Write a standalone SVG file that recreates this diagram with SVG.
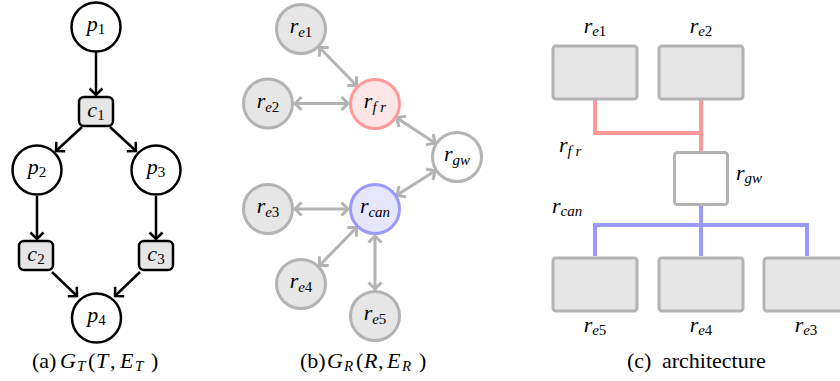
<svg xmlns="http://www.w3.org/2000/svg" width="840" height="381" viewBox="0 0 840 381">
<style>
text{font-family:"Liberation Serif","Times New Roman",serif;fill:#000}
.lbl{font-size:22px;font-style:italic;text-anchor:middle}
.lbl-l{font-size:22px;font-style:italic}
.sub{font-size:15px}
.up{font-style:normal}
.cap{font-size:22px}
.it{font-style:italic}
.pn{fill:#fff;stroke:#000;stroke-width:2.5}
.cn{fill:#e6e6e6;stroke:#000;stroke-width:2.5}
.gn{fill:#e6e6e6;stroke:#b3b3b3;stroke-width:3}
.wn{fill:#fff;stroke:#b3b3b3;stroke-width:3}
.rn{fill:#ffe6e6;stroke:#ff9999;stroke-width:3}
.bn{fill:#e6e6ff;stroke:#9999ff;stroke-width:3}
.box{fill:#e6e6e6;stroke:#b3b3b3;stroke-width:3}
.wbox{fill:#fff;stroke:#b3b3b3;stroke-width:3}
.ea{stroke:#000;stroke-width:2.5;fill:none;marker-end:url(#ah)}
.eb{stroke:#b3b3b3;stroke-width:3;fill:none;marker-start:url(#gh);marker-end:url(#gh)}
.red{stroke:#ff9999;stroke-width:4;fill:none}
.blue{stroke:#9999ff;stroke-width:4;fill:none}
</style>
<defs>
<marker id="ah" markerUnits="userSpaceOnUse" viewBox="-10 -8 12 16" refX="0" refY="0" markerWidth="12" markerHeight="16" orient="auto" overflow="visible">
<path d="M-6.5,-6.5 L0,0 L-6.5,6.5" fill="none" stroke="#000" stroke-width="2.5" stroke-linejoin="miter"/>
</marker>
<marker id="gh" markerUnits="userSpaceOnUse" viewBox="-10 -8 12 16" refX="0" refY="0" markerWidth="12" markerHeight="16" orient="auto-start-reverse" overflow="visible">
<path d="M-6.5,-6.5 L0,0 L-6.5,6.5" fill="none" stroke="#b3b3b3" stroke-width="3"/>
</marker>
</defs>

<g id="connectors">
<!-- (a) -->
<line class="ea" x1="96" y1="52" x2="96" y2="95"/>
<line class="ea" x1="82" y1="127" x2="56" y2="151"/>
<line class="ea" x1="110" y1="127" x2="136" y2="151"/>
<line class="ea" x1="37" y1="196" x2="37" y2="239"/>
<line class="ea" x1="156" y1="196" x2="156" y2="239"/>
<line class="ea" x1="52" y1="272" x2="77" y2="296"/>
<line class="ea" x1="140" y1="272" x2="115" y2="296"/>
<!-- (b) -->
<line class="eb" x1="319.5" y1="47.5" x2="356.5" y2="85.5"/>
<line class="eb" x1="295" y1="103.5" x2="348" y2="103.5"/>
<line class="eb" x1="397" y1="118" x2="435" y2="143"/>
<line class="eb" x1="435" y1="171" x2="397" y2="195"/>
<line class="eb" x1="295" y1="209" x2="348" y2="209"/>
<line class="eb" x1="319.5" y1="265.5" x2="356.5" y2="227.5"/>
<line class="eb" x1="375" y1="236" x2="375" y2="289"/>
<!-- (c) -->
<polyline class="red" points="595,100 595,133 701,133"/>
<line class="red" x1="701" y1="100" x2="701" y2="151"/>
<line class="blue" x1="701" y1="205" x2="701" y2="256"/>
<polyline class="blue" points="595,256 595,225 807,225 807,256"/>
</g>

<g id="p1"><circle class="pn" cx="96" cy="27" r="24.5"/><text class="lbl" x="96" y="31">p<tspan class="sub up" dy="3">1</tspan></text></g>
<g id="c1"><rect class="cn" x="79" y="97" width="34" height="29" rx="5"/><text class="lbl" x="96" y="117">c<tspan class="sub up" dy="3">1</tspan></text></g>
<g id="p2"><circle class="pn" cx="37" cy="170" r="24.5"/><text class="lbl" x="37" y="174">p<tspan class="sub up" dy="3">2</tspan></text></g>
<g id="p3"><circle class="pn" cx="156" cy="170" r="24.5"/><text class="lbl" x="156" y="174">p<tspan class="sub up" dy="3">3</tspan></text></g>
<g id="c2"><rect class="cn" x="19" y="241" width="34" height="29" rx="5"/><text class="lbl" x="36" y="261">c<tspan class="sub up" dy="3">2</tspan></text></g>
<g id="c3"><rect class="cn" x="139" y="241" width="34" height="29" rx="5"/><text class="lbl" x="156" y="261">c<tspan class="sub up" dy="3">3</tspan></text></g>
<g id="p4"><circle class="pn" cx="96.5" cy="318" r="24.5"/><text class="lbl" x="96.5" y="322">p<tspan class="sub up" dy="3">4</tspan></text></g>
<g id="cap-a"><text class="cap" x="32" y="368">(a)</text><text class="cap"><tspan class="it" x="60" y="368">G</tspan><tspan class="sub it" x="77" y="371">T</tspan><tspan x="88" y="368">(</tspan><tspan class="it" x="96" y="368">T</tspan><tspan x="110" y="368">,</tspan><tspan class="it" x="120" y="368">E</tspan><tspan class="sub it" x="135" y="371">T</tspan><tspan x="151" y="368">)</tspan></text></g>

<g id="b-re1"><circle class="gn" cx="301" cy="29" r="24.5"/><text class="lbl" x="301" y="33">r<tspan class="sub" dy="4">e</tspan><tspan class="sub up">1</tspan></text></g>
<g id="b-re2"><circle class="gn" cx="268" cy="103.5" r="24.5"/><text class="lbl" x="268" y="107.5">r<tspan class="sub" dy="4">e</tspan><tspan class="sub up">2</tspan></text></g>
<g id="b-rfr"><circle class="rn" cx="375" cy="104" r="24.5"/><text class="lbl" x="375" y="108">r<tspan class="sub" dy="4">f r</tspan></text></g>
<g id="b-rgw"><circle class="wn" cx="457" cy="157" r="24.5"/><text class="lbl" x="457" y="161">r<tspan class="sub" dy="4">gw</tspan></text></g>
<g id="b-rcan"><circle class="bn" cx="375" cy="209" r="24.5"/><text class="lbl" x="375" y="213">r<tspan class="sub" dy="4">can</tspan></text></g>
<g id="b-re3"><circle class="gn" cx="268" cy="209" r="24.5"/><text class="lbl" x="268" y="213">r<tspan class="sub" dy="4">e</tspan><tspan class="sub up">3</tspan></text></g>
<g id="b-re4"><circle class="gn" cx="301" cy="284" r="24.5"/><text class="lbl" x="301" y="288">r<tspan class="sub" dy="4">e</tspan><tspan class="sub up">4</tspan></text></g>
<g id="b-re5"><circle class="gn" cx="375" cy="316" r="24.5"/><text class="lbl" x="375" y="320">r<tspan class="sub" dy="4">e</tspan><tspan class="sub up">5</tspan></text></g>
<g id="cap-b"><text class="cap" x="300" y="368">(b)</text><text class="cap"><tspan class="it" x="327" y="368">G</tspan><tspan class="sub it" x="344" y="371">R</tspan><tspan x="356" y="368">(</tspan><tspan class="it" x="364" y="368">R</tspan><tspan x="378" y="368">,</tspan><tspan class="it" x="387" y="368">E</tspan><tspan class="sub it" x="402" y="371">R</tspan><tspan x="419" y="368">)</tspan></text></g>

<g id="c-re1"><rect class="box" x="553" y="46" width="84" height="53" rx="3"/><text class="lbl" x="595" y="33">r<tspan class="sub" dy="3">e</tspan><tspan class="sub up">1</tspan></text></g>
<g id="c-re2"><rect class="box" x="659" y="46" width="84" height="53" rx="3"/><text class="lbl" x="701" y="33">r<tspan class="sub" dy="3">e</tspan><tspan class="sub up">2</tspan></text></g>
<g id="c-rgw"><rect class="wbox" x="674.5" y="152.5" width="53" height="52" rx="3"/><text class="lbl-l" x="736" y="180">r<tspan class="sub" dy="3">gw</tspan></text></g>
<g id="c-re5"><rect class="box" x="553" y="258" width="84" height="53" rx="3"/><text class="lbl" x="595" y="332">r<tspan class="sub" dy="3">e</tspan><tspan class="sub up">5</tspan></text></g>
<g id="c-re4"><rect class="box" x="659" y="258" width="84" height="53" rx="3"/><text class="lbl" x="701" y="332">r<tspan class="sub" dy="3">e</tspan><tspan class="sub up">4</tspan></text></g>
<g id="c-re3"><rect class="box" x="764" y="258" width="84" height="53" rx="3"/><text class="lbl" x="806" y="332">r<tspan class="sub" dy="3">e</tspan><tspan class="sub up">3</tspan></text></g>
<g id="c-rfr-label"><text class="lbl-l" x="559" y="152">r<tspan class="sub" dy="4">f r</tspan></text></g>
<g id="c-rcan-label"><text class="lbl-l" x="552" y="213">r<tspan class="sub" dy="3">can</tspan></text></g>
<g id="cap-c"><text class="cap" x="627" y="368">(c)</text><text class="cap" x="662" y="368">architecture</text></g>
</svg>
